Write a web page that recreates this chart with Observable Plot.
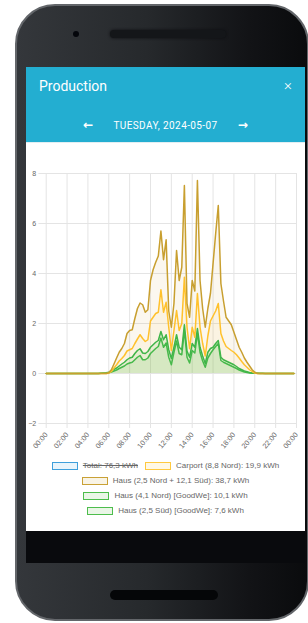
<!DOCTYPE html>
<html>
<head>
<meta charset="utf-8">
<script src="https://cdn.jsdelivr.net/npm/d3@7"></script>
<script src="https://cdn.jsdelivr.net/npm/@observablehq/plot@0.6"></script>
<style>
  html, body { margin: 0; padding: 0; background: #ffffff; }
  body { width: 308px; height: 623px; position: relative; overflow: hidden; font-family: "Liberation Sans", Arial, sans-serif; }
  .abs { position: absolute; }
  #phone { left: 15px; top: 4px; width: 290px; height: 613px; border-radius: 40px; border: 2px solid #63666a;
           background: linear-gradient(90deg, #34373b 0%, #26292c 45%, #121316 80%, #0a0b0d 100%); }
  #speaker { left: 110px; top: 30px; width: 116px; height: 8px; border-radius: 4px; background: #141619; box-shadow: 0 0 3px #0d0e10; }
  #camera { left: 73px; top: 31px; width: 6px; height: 6px; border-radius: 3px; background: #04060b; }
  #header { left: 26px; top: 67px; width: 279px; height: 75px; background: #23aed1; color: #fff; }
  #title { left: 13px; top: 11px; font-family: Roboto, "Noto Sans", sans-serif; font-size: 14px; }
  #close { left: 258px; top: 9px; font-family: Roboto, sans-serif; font-size: 15px; font-weight: 300; }
  #nav { left: 0; top: 51px; width: 279px; text-align: center; font-family: Roboto, sans-serif; font-size: 10px; letter-spacing: 0.4px; }
  #nav .arr { font-family: "DejaVu Sans", sans-serif; font-size: 12px; font-weight: bold; position: relative; top: 0px; letter-spacing: 0; }
  #screen { left: 26px; top: 142px; width: 279px; height: 389px; background: #fff; border-top: 1px solid #e2eef2; box-sizing: border-box; }
  #chart { left: 26px; top: 160px; }
  #bar { left: 26px; top: 531px; width: 279px; height: 32px; background: #090a0d; }
  #home { left: 110px; top: 590px; width: 108px; height: 10px; border-radius: 5px; background: #050608; }
  #legend { left: 26px; top: 458px; width: 279px; font-size: 8px; color: #666; }
  .row { height: 15px; display: flex; justify-content: center; align-items: center; white-space: nowrap; }
  .item { display: flex; align-items: center; margin: 0 3.5px; }
  .box { width: 24px; height: 6px; border: 1.5px solid; margin-right: 5px; }
  .strike { text-decoration: line-through; }
</style>
</head>
<body>
<div id="phone" class="abs"></div>
<div id="speaker" class="abs"></div>
<div id="camera" class="abs"></div>
<div id="header" class="abs">
  <div id="title" class="abs">Production</div>
  <div id="close" class="abs">×</div>
  <div id="nav" class="abs"><span class="arr">←</span>&nbsp;&nbsp;&nbsp;&nbsp;&nbsp;&nbsp;&nbsp;TUESDAY, 2024-05-07&nbsp;&nbsp;&nbsp;&nbsp;&nbsp;&nbsp;&nbsp;<span class="arr">→</span></div>
</div>
<div id="screen" class="abs"></div>
<div id="chart" class="abs"></div>
<div id="legend" class="abs"></div>
<div id="bar" class="abs"></div>
<div id="home" class="abs"></div>
<script>
// 15-minute slots from 00:00 to 23:45 (96 values each), kW
const slotHours = 0.25;

const carport = [
  0,0,0,0,0,0,0,0, 0,0,0,0,0,0,0,0, 0,0,0,0,0,0,0,0,
  0.01,0.08,0.22,0.35,0.5,0.6,0.72,0.9,
  0.95,1.0,1.2,1.38,1.55,1.4,1.28,1.35,
  2.1,2.25,2.4,2.45,3.35,2.45,2.85,1.85,
  0.92,1.72,2.52,1.72,2.0,3.85,1.85,0.99,
  1.85,1.45,3.2,1.85,1.2,0.7,1.5,2.1,
  2.3,2.5,2.8,1.6,1.3,1.08,1.0,0.92,
  0.85,0.75,0.62,0.48,0.35,0.25,0.15,0.08,
  0.02,0,0,0,0,0,0,0, 0,0,0,0,0,0,0,0
];

const hausNordSued = [
  0,0,0,0,0,0,0,0, 0,0,0,0,0,0,0,0, 0,0,0,0,0,0,0,0,
  0.03,0.15,0.38,0.62,0.85,1.0,1.2,1.6,
  1.72,1.75,2.2,2.6,2.82,2.75,2.45,2.55,
  3.72,4.15,4.45,4.7,5.7,4.55,5.35,2.5,
  1.85,2.8,4.92,3.72,4.25,7.52,2.8,2.25,
  3.72,3.3,7.72,3.72,2.6,1.85,2.6,3.2,
  4.4,5.6,6.72,3.6,2.9,2.25,2.1,1.95,
  1.65,1.35,1.05,0.85,0.62,0.45,0.3,0.15,
  0.05,0,0,0,0,0,0,0, 0,0,0,0,0,0,0,0
];

const hausNord41 = [
  0,0,0,0,0,0,0,0, 0,0,0,0,0,0,0,0, 0,0,0,0,0,0.01,0.02,0.03,
  0.05,0.1,0.17,0.22,0.3,0.38,0.45,0.55,
  0.62,0.65,0.8,0.92,0.99,0.82,0.8,0.88,
  1.05,1.15,1.25,1.32,1.68,1.35,1.55,0.95,
  0.6,1.05,1.55,1.05,0.95,1.95,0.9,0.65,
  1.2,1.05,1.8,1.05,0.7,0.4,0.85,1.0,
  1.05,1.2,1.32,0.65,0.55,0.5,0.45,0.4,
  0.35,0.28,0.2,0.15,0.1,0.07,0.04,0.02,
  0.01,0.01,0.01,0.01,0,0,0,0, 0,0,0,0,0,0,0,0
];

const hausSued25 = [
  0,0,0,0,0,0,0,0, 0,0,0,0,0,0,0,0, 0,0,0,0,0,0.01,0.01,0.02,
  0.03,0.06,0.1,0.14,0.2,0.25,0.3,0.38,
  0.42,0.45,0.55,0.65,0.72,0.55,0.55,0.62,
  0.8,0.9,1.0,1.08,1.42,1.05,1.22,0.65,
  0.35,0.85,1.3,0.8,0.75,1.72,0.65,0.42,
  0.92,0.82,1.6,0.85,0.5,0.25,0.62,0.8,
  0.95,1.08,1.2,0.52,0.45,0.4,0.35,0.3,
  0.25,0.2,0.14,0.1,0.06,0.04,0.02,0.01,
  0.01,0.01,0,0,0,0,0,0, 0,0,0,0,0,0,0,0
];

const xTicks = [0,2,4,6,8,10,12,14,16,18,20,22,24];
const xTickLabels = ["00:00","02:00","04:00","06:00","08:00","10:00","12:00","14:00","16:00","18:00","20:00","22:00","00:00"];
const yTicks = [-2,0,2,4,6,8];

const legendItems = [
  {row: 0, label: "Total: 76,3 kWh", stroke: "#3e9fdb", fill: "#e8f4fb", hidden: true},
  {row: 0, label: "Carport (8,8 Nord): 19,9 kWh", stroke: "#ffc93f", fill: "#fff8e6"},
  {row: 1, label: "Haus (2,5 Nord + 12,1 Süd): 38,7 kWh", stroke: "#c9a136", fill: "#f9f4e6"},
  {row: 2, label: "Haus (4,1 Nord) [GoodWe]: 10,1 kWh", stroke: "#4dbd4c", fill: "#eaf6e7"},
  {row: 3, label: "Haus (2,5 Süd) [GoodWe]: 7,6 kWh", stroke: "#4dbd4c", fill: "#eaf6e7"}
];

const colors = {
  haus: "#c89f2f", carport: "#ffc12c", nord41: "#3fb548", sued25: "#47b94b"
};

const X = (d, i) => i * slotHours;
const Y = d => d;

const chart = Plot.plot({
  width: 279,
  height: 300,
  marginLeft: 19.7,
  marginRight: 9,
  marginTop: 13,
  marginBottom: 37,
  style: {background: "transparent", fontFamily: "'Liberation Sans', Arial, sans-serif", overflow: "visible"},
  x: {domain: [0, 24], axis: null},
  y: {domain: [-2, 8], axis: null},
  marks: [
    Plot.ruleX(xTicks, {y1: -2.2, y2: 8, stroke: "#e4e4e4", strokeWidth: 1}),
    Plot.ruleY(yTicks, {x1: -0.7, x2: 24, stroke: "#e4e4e4", strokeWidth: 1}),
    Plot.areaY(hausNordSued, {x: X, y: Y, fill: colors.haus, fillOpacity: 0.08}),
    Plot.areaY(carport, {x: X, y: Y, fill: "#ffc433", fillOpacity: 0.07}),
    Plot.areaY(hausNord41, {x: X, y: Y, fill: "#5cc25a", fillOpacity: 0.12}),
    Plot.areaY(hausSued25, {x: X, y: Y, fill: "#5cc25a", fillOpacity: 0.12}),
    Plot.lineY(hausSued25, {x: X, y: Y, stroke: colors.sued25, strokeWidth: 1.5}),
    Plot.lineY(hausNord41, {x: X, y: Y, stroke: colors.nord41, strokeWidth: 1.5}),
    Plot.lineY(carport, {x: X, y: Y, stroke: colors.carport, strokeWidth: 1.5}),
    Plot.lineY(hausNordSued, {x: X, y: Y, stroke: colors.haus, strokeWidth: 1.5}),
    Plot.axisY({ticks: yTicks, tickSize: 0, tickPadding: 10, fontSize: 7, fill: "#666"}),
    Plot.axisX({ticks: xTicks, tickSize: 0, tickPadding: 10, tickRotate: -50, fontSize: 7.3, fill: "#666",
      tickFormat: d => xTickLabels[xTicks.indexOf(d)]})
  ]
});
document.getElementById("chart").appendChild(chart);

const legend = document.getElementById("legend");
[0,1,2,3].forEach(r => {
  const row = document.createElement("div");
  row.className = "row";
  legendItems.filter(it => it.row === r).forEach(it => {
    const item = document.createElement("div");
    item.className = "item";
    const box = document.createElement("div");
    box.className = "box";
    box.style.borderColor = it.stroke;
    box.style.background = it.fill;
    const txt = document.createElement("span");
    txt.textContent = it.label;
    if (it.hidden) txt.className = "strike";
    item.appendChild(box);
    item.appendChild(txt);
    row.appendChild(item);
  });
  legend.appendChild(row);
});
</script>
</body>
</html>
